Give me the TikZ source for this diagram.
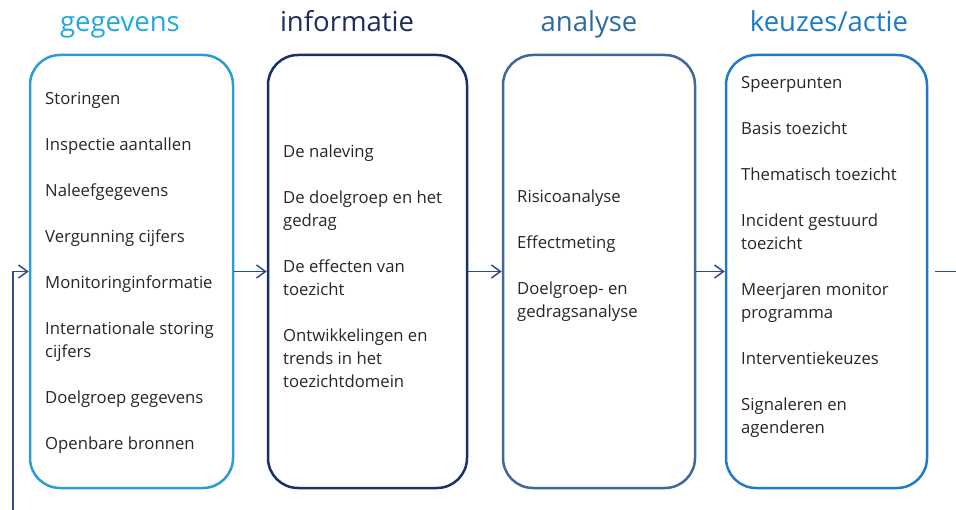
\documentclass[tikz,border=0pt]{standalone}
\usepackage{fontspec}
\setmainfont{Open Sans}
\usetikzlibrary{arrows.meta}
\definecolor{cA}{HTML}{2D9CD4}
\definecolor{hA}{HTML}{22A7E0}
\definecolor{cB}{HTML}{1B2F6B}
\definecolor{hB}{HTML}{1E2B5E}
\definecolor{cC}{HTML}{41689B}
\definecolor{hC}{HTML}{2E6B9E}
\definecolor{cD}{HTML}{1F7BC9}
\definecolor{hD}{HTML}{1B7BC6}
\definecolor{txt}{HTML}{262626}
\definecolor{arr}{HTML}{2F4C8C}
\tikzset{
  box/.style={draw, line width=2.5pt, rounded corners=30pt, inner sep=0pt, minimum height=433pt},
  head/.style={anchor=base, inner sep=0pt, font=\fontsize{27.5}{33}\selectfont},
  item/.style={anchor=north west, inner sep=0pt, align=left, text=txt, font=\fontsize{16.7}{23}\selectfont},
  flow/.style={draw=arr, line width=1.5pt, -{Straight Barb[length=9pt,width=13pt]}},
}
\begin{document}
\begin{tikzpicture}[x=1pt,y=-1pt]
\useasboundingbox (0,0) rectangle (956,510);
% headers
\node[head, text=hA] (h1) at (120,32) {gegevens};
\node[head, text=hB] (h2) at (347,32) {informatie};
\node[head, text=hC] (h3) at (589,32) {analyse};
\node[head, text=hD] (h4) at (829,32) {keuzes/actie};
% boxes
\node[box, draw=cA, minimum width=203pt] (b1) at (131.5,271.5) {};
\node[box, draw=cB, minimum width=199pt] (b2) at (367.5,271.5) {};
\node[box, draw=cC, minimum width=192pt] (b3) at (599,271.5) {};
\node[box, draw=cD, minimum width=201pt] (b4) at (826.5,271.5) {};
% box 1 items
\node[item] (a1) at (45,88.4) {\strut Storingen};
\node[item] (a2) at (45,134.4) {\strut Inspectie aantallen};
\node[item] (a3) at (45,180.4) {\strut Naleefgegevens};
\node[item] (a4) at (45,226.4) {\strut Vergunning cijfers};
\node[item] (a5) at (45,272.4) {\strut Monitoringinformatie};
\node[item] (a6) at (45,318.4) {\strut Internationale storing\\cijfers};
\node[item] (a7) at (45,387.4) {\strut Doelgroep gegevens};
\node[item] (a8) at (45,433.4) {\strut Openbare bronnen};
% box 2 items
\node[item] (i1) at (283,141.4) {\strut De naleving};
\node[item] (i2) at (283,187.4) {\strut De doelgroep en het\\gedrag};
\node[item] (i3) at (283,256.4) {\strut De effecten van\\toezicht};
\node[item] (i4) at (283,325.4) {\strut Ontwikkelingen en\\trends in het\\toezichtdomein};
% box 3 items
\node[item] (n1) at (517,186.4) {\strut Risicoanalyse};
\node[item] (n2) at (517,232.4) {\strut Effectmeting};
\node[item] (n3) at (517,278.4) {\strut Doelgroep- en\\gedragsanalyse};
% box 4 items
\node[item] (k1) at (741,72.4) {\strut Speerpunten};
\node[item] (k2) at (741,118.4) {\strut Basis toezicht};
\node[item] (k3) at (741,164.4) {\strut Thematisch toezicht};
\node[item] (k4) at (741,210.4) {\strut Incident gestuurd\\toezicht};
\node[item] (k5) at (741,279.4) {\strut Meerjaren monitor\\programma};
\node[item] (k6) at (741,348.4) {\strut Interventiekeuzes};
\node[item] (k7) at (741,394.4) {\strut Signaleren en\\agenderen};
% connectors
\coordinate (fb) at (13,510);
\coordinate (out) at (956,271.5);
\draw[flow] (b1.east) -- (b2.west);
\draw[flow] (b2.east) -- (b3.west);
\draw[flow] (b3.east) -- (b4.west);
\draw[flow] (fb) |- (b1.west);
\draw[draw=arr, line width=1.5pt, shorten <=7pt] (b4.east) -- (out);
\end{tikzpicture}
\end{document}
